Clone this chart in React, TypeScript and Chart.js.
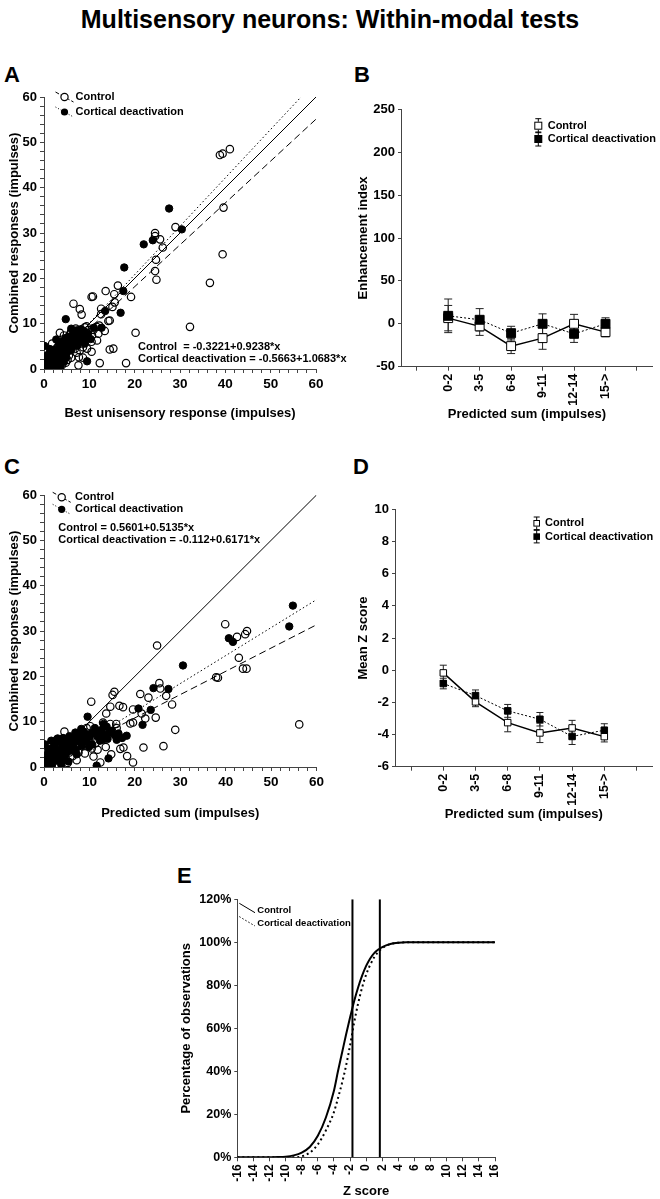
import React, { useEffect, useRef } from 'react';
import { Chart, registerables } from 'chart.js';

Chart.register(...registerables);

const FONT = "'Liberation Sans', Arial, Helvetica, sans-serif";
const AXIS = '#444';

// ---------- text ----------
const TITLE = 'Multisensory neurons: Within-modal tests';
const CONTROL = 'Control';
const DEACT = 'Cortical deactivation';

// ---------- Panel A ----------
const aControlPoints: [number, number][] = [
  [41.0, 48.5], [39.4, 47.5], [38.8, 47.2], [39.6, 35.6], [39.4, 25.3], [36.6, 19.0], [32.2, 9.3],
  [29.0, 31.3], [25.6, 28.6], [26.2, 26.8], [24.5, 30.0], [24.5, 29.3], [24.7, 24.1], [24.5, 21.6],
  [24.8, 19.7], [19.2, 15.9], [20.2, 8.0], [18.1, 1.3], [12.3, 1.3], [16.3, 18.4], [15.5, 16.5],
  [15.6, 14.7], [15.1, 13.7], [13.6, 17.2], [10.8, 16.0], [10.5, 15.9], [6.5, 14.4], [7.9, 13.2],
  [8.3, 12.0], [12.6, 12.1], [12.6, 13.3], [14.5, 10.7], [14.2, 10.6], [11.7, 6.3], [10.5, 6.0],
  [15.3, 4.5], [14.5, 4.3], [9.5, 4.5], [10.5, 3.8], [7.9, 4.1], [7.7, 2.6], [7.6, 0.8], [3.5, 8.0],
  [9.4, 9.4], [6.0, 8.2], [11.6, 9.3], [12.0, 7.8], [8.6, 2.5], [6.0, 2.5],
  [0.4, 0.8], [1.0, 2.0], [1.5, 1.0], [2.0, 3.6], [2.5, 2.0], [3.0, 0.6], [3.2, 5.2], [3.6, 2.6],
  [4.2, 4.0], [4.8, 1.4], [5.0, 6.2], [5.5, 3.0], [6.2, 5.4], [6.6, 7.2], [7.2, 3.6], [7.8, 6.0],
  [8.3, 8.0], [9.0, 9.2], [9.8, 8.6], [10.6, 7.4], [8.6, 4.8], [1.8, 5.6], [0.6, 3.8], [4.4, 7.4],
  [12.2, 9.6], [13.4, 8.4], [0.9, 0.2], [2.8, 4.6], [3.9, 5.8], [5.8, 7.8], [7.0, 8.9], [9.4, 7.0],
  [10.9, 8.6], [6.8, 4.4], [5.2, 2.0], [1.2, 2.8], [2.2, 1.4], [4.0, 0.9],
];
const aDeactPoints: [number, number][] = [
  [27.6, 35.4], [30.4, 30.8], [24.0, 28.4], [22.0, 27.5], [17.7, 22.4], [17.5, 17.2], [16.9, 12.4],
  [13.5, 12.8], [12.7, 9.1], [4.8, 11.0], [9.5, 1.7],
  [0.3, 0.4], [0.8, 1.5], [1.2, 0.3], [1.6, 2.3], [2.0, 1.0], [2.4, 0.8], [2.7, 3.0], [3.0, 2.0],
  [3.3, 4.4], [3.8, 3.8], [3.8, 1.8], [4.2, 2.9], [4.6, 4.9], [5.0, 3.6], [5.3, 7.1], [5.7, 5.6],
  [6.0, 4.2], [6.4, 7.8], [6.8, 6.3], [7.1, 8.5], [7.4, 5.2], [7.9, 7.4], [8.2, 8.8], [8.6, 7.1],
  [9.0, 5.6], [9.7, 7.8], [10.3, 6.6], [11.0, 9.1], [0.1, 5.1], [2.7, 6.5], [1.0, 3.2], [0.5, 2.4],
  [4.0, 6.0], [6.0, 8.9], [7.6, 6.4],
  [0.5, 1.8], [1.4, 1.2], [1.9, 2.8], [2.2, 0.4], [2.9, 1.2], [3.4, 2.6], [3.6, 0.6], [4.4, 1.6],
  [4.9, 2.6], [5.4, 4.6], [5.9, 6.6], [6.3, 5.0], [6.9, 7.3], [7.3, 7.9], [7.7, 8.6], [8.4, 7.6],
  [8.9, 8.3], [9.2, 6.8], [5.1, 5.9], [4.3, 5.2], [3.5, 5.4], [2.3, 4.2], [1.3, 4.4], [0.7, 3.0],
  [0.2, 1.4], [1.7, 0.2], [3.1, 3.6], [4.7, 6.8], [6.6, 8.2], [8.0, 6.1],
];
const aControlFit: [number, number] = [-0.3221, 0.9238];
const aDeactFit: [number, number] = [-0.5663, 1.0683];
const aEquations = ['Control  = -0.3221+0.9238*x', 'Cortical deactivation = -0.5663+1.0683*x'];
const aXTitle = 'Best unisensory response (impulses)';
const aYTitle = 'Combined responses (impulses)';

// ---------- Panel C ----------
const cControlPoints: [number, number][] = [
  [39.9, 31.5], [44.7, 30.0], [44.3, 29.3], [42.5, 28.7], [42.9, 24.1], [43.8, 21.7], [44.6, 21.7],
  [37.9, 19.8], [38.3, 19.7], [24.9, 26.8], [25.4, 18.5], [25.6, 17.3], [26.9, 15.7], [28.2, 13.8],
  [28.9, 8.2], [56.2, 9.4], [23.0, 15.3], [21.2, 16.1], [21.5, 11.8], [24.6, 10.9], [22.3, 10.7],
  [19.6, 12.7], [19.0, 9.6], [19.6, 9.8], [15.5, 16.6], [15.1, 15.9], [10.4, 14.4], [14.6, 13.3],
  [16.6, 13.5], [17.4, 13.2], [13.7, 11.8], [15.9, 9.5], [14.6, 9.5], [4.5, 7.8], [17.5, 4.3],
  [21.9, 4.3], [26.3, 4.6],
  [0.4, 0.4], [0.9, 1.6], [1.5, 0.8], [2.0, 3.0], [2.6, 1.8], [3.2, 0.4], [3.6, 4.4], [4.0, 2.2],
  [4.8, 3.4], [5.2, 0.9], [5.8, 5.2], [6.3, 2.4], [6.9, 4.2], [7.2, 1.5], [7.6, 3.2], [8.4, 5.6],
  [9.0, 3.0], [9.8, 6.2], [10.5, 4.1], [10.9, 2.3], [11.3, 5.2], [12.4, 1.0], [13.0, 9.8],
  [16.0, 8.6], [1.4, 5.0], [2.8, 6.0], [18.3, 2.4],
  [1.0, 2.6], [2.2, 4.0], [3.0, 2.8], [4.4, 5.2], [5.6, 3.2], [6.6, 5.8], [8.0, 7.0], [9.4, 8.6],
  [10.2, 9.0], [11.8, 3.8], [12.8, 6.4], [13.6, 4.4], [14.8, 2.8], [16.8, 4.0], [19.6, 1.0],
];
const cDeactPoints: [number, number][] = [
  [54.8, 35.6], [54.0, 31.0], [40.7, 28.4], [41.6, 27.6], [30.6, 22.4], [24.1, 17.4], [27.4, 17.2],
  [20.8, 12.9], [23.5, 12.6], [21.7, 9.3], [9.6, 11.1], [0.2, 5.0], [12.7, 8.2], [13.8, 8.9],
  [13.1, 9.5], [16.4, 7.4], [18.2, 6.9], [14.0, 6.2], [16.0, 6.0], [7.9, 7.4], [10.1, 6.7],
  [11.6, 7.8], [6.1, 6.3], [5.0, 4.9], [4.4, 4.1], [14.2, 1.9], [11.6, 0.3],
  [0.6, 0.8], [1.2, 2.0], [1.8, 0.6], [2.3, 2.6], [2.9, 1.4], [3.4, 3.3], [3.8, 0.5], [4.6, 2.4],
  [5.4, 1.2], [5.8, 3.6], [6.5, 5.0], [7.2, 2.8], [7.6, 6.4], [8.3, 4.6], [8.8, 7.8], [9.4, 5.6],
  [10.6, 5.0], [11.2, 8.6], [12.3, 5.8], [13.2, 7.2], [15.0, 8.0], [3.0, 6.3], [4.2, 6.4],
  [1.0, 4.0], [2.2, 4.6],
  [0.4, 1.6], [0.9, 3.0], [1.5, 3.4], [2.0, 1.4], [2.6, 3.8], [3.2, 2.2], [3.9, 4.6], [4.1, 1.6],
  [4.9, 3.2], [5.3, 5.4], [6.0, 4.4], [6.7, 6.2], [7.0, 3.8], [7.9, 5.6], [8.5, 6.6], [9.1, 7.0],
  [9.9, 4.4], [10.4, 7.4], [11.8, 6.8], [12.9, 6.0], [14.4, 7.6], [15.6, 7.0], [17.2, 6.4],
  [2.6, 5.4], [1.6, 5.8], [3.6, 5.8], [5.6, 6.8], [6.9, 7.6], [8.2, 8.4],
];
const cControlFit: [number, number] = [0.5601, 0.5135];
const cDeactFit: [number, number] = [-0.112, 0.6171];
const cEquations = ['Control = 0.5601+0.5135*x', 'Cortical deactivation = -0.112+0.6171*x'];
const cXTitle = 'Predicted sum (impulses)';
const cYTitle = 'Combined responses (impulses)';

const scatterRange: [number, number] = [0, 60];
const scatterTickLabels = [0, 10, 20, 30, 40, 50, 60];

// ---------- Panels B & D ----------
const binLabels = ['0-2', '3-5', '6-8', '9-11', '12-14', '15->'];
const binTickPositions = [-1, 0, 1, 2, 3, 4, 5, 6];

const bControlMean = [6.6, -3.0, -26.0, -16.7, 0.0, -9.7];
const bControlErr = [14.8, 10.5, 8.7, 13.0, 11.0, 5.5];
const bDeactMean = [9.3, 4.7, -10.9, 0.0, -11.7, 0.0];
const bDeactErr = [19.6, 13.0, 8.0, 11.6, 10.0, 7.0];
const bYTicks = [-50, 0, 50, 100, 150, 200, 250];
const bYTitle = 'Enhancement index';
const bXTitle = 'Predicted sum (impulses)';

const dControlMean = [-0.17, -1.97, -3.26, -3.9, -3.59, -4.13];
const dControlErr = [0.48, 0.3, 0.57, 0.6, 0.47, 0.33];
const dDeactMean = [-0.83, -1.58, -2.53, -3.05, -4.12, -3.73];
const dDeactErr = [0.33, 0.35, 0.4, 0.42, 0.5, 0.4];
const dYTicks = [-6, -4, -2, 0, 2, 4, 6, 8, 10];
const dYTitle = 'Mean Z score';
const dXTitle = 'Predicted sum (impulses)';

// ---------- Panel E ----------
const eZ = [-16, -14, -12, -11, -10, -9, -8, -7, -6, -5, -4, -3.5, -3, -2.5, -2, -1.5, -1, -0.5, 0,
  0.5, 1, 1.5, 2, 3, 4, 5, 6, 8, 10, 12, 14, 16];
const eControlPct = [0, 0, 0, 0.1, 0.3, 0.9, 2.2, 4.8, 10, 18.5, 31, 40, 48.5, 57, 65, 72.5, 79, 84.5, 89,
  92.5, 95, 96.6, 97.8, 99.2, 99.8, 100, 100, 100, 100, 100, 100, 100];
const eDeactPct = [0, 0, 0, 0, 0, 0, 0.4, 2.2, 6, 12.5, 21, 27.5, 34.5, 42.5, 52, 62.5, 71.5, 79, 85,
  89.5, 93, 95.6, 97.3, 99.2, 99.8, 100, 100, 100, 100, 100, 100, 100];
const eCriticalZ = [-1.7, 1.7];
const eXTicks = [-16, -14, -12, -10, -8, -6, -4, -2, 0, 2, 4, 6, 8, 10, 12, 14, 16];
const eYTicks = [0, 20, 40, 60, 80, 100, 120];
const eXTitle = 'Z score';
const eYTitle = 'Percentage of observations';

// ---------- plugins ----------
const errorBarPlugin = {
  id: 'errorBars',
  beforeDatasetsDraw(chart: any) {
    const ctx = chart.ctx;
    const yScale = chart.scales.y;
    chart.data.datasets.forEach((ds: any, i: number) => {
      if (!ds.errorBars) return;
      const meta = chart.getDatasetMeta(i);
      const w = ds.capHalfWidth || 4;
      meta.data.forEach((el: any, j: number) => {
        const v = ds.data[j].y;
        const e = ds.errorBars[j];
        const yTop = yScale.getPixelForValue(v + e);
        const yBot = yScale.getPixelForValue(v - e);
        ctx.save();
        ctx.strokeStyle = '#222';
        ctx.lineWidth = 1;
        ctx.beginPath();
        ctx.moveTo(el.x, yTop); ctx.lineTo(el.x, yBot);
        ctx.moveTo(el.x - w, yTop); ctx.lineTo(el.x + w, yTop);
        ctx.moveTo(el.x - w, yBot); ctx.lineTo(el.x + w, yBot);
        ctx.stroke();
        ctx.restore();
      });
    });
  },
};

const annotatePlugin = {
  id: 'annotate',
  afterDraw(chart: any, _args: any, opts: any) {
    const { ctx, chartArea } = chart;
    if (!opts) return;
    ctx.save();
    const lg = opts.legend;
    if (lg) {
      lg.items.forEach((it: any, i: number) => {
        const cx = chartArea.left + lg.dx;
        const cy = chartArea.top + lg.dy + i * lg.gap;
        ctx.strokeStyle = '#000';
        ctx.fillStyle = '#000';
        if (it.sample) {
          ctx.lineWidth = it.sampleWidth || 1;
          ctx.setLineDash(it.dash || []);
          ctx.beginPath();
          ctx.moveTo(cx + it.sample[0], cy + it.sample[1]);
          ctx.lineTo(cx + it.sample[2], cy + it.sample[3]);
          ctx.stroke();
          ctx.setLineDash([]);
        }
        ctx.lineWidth = 1.2;
        if (it.marker === 'circle') {
          ctx.beginPath();
          ctx.arc(cx, cy, it.size, 0, Math.PI * 2);
          if (it.filled) ctx.fill(); else { ctx.fillStyle = '#fff'; ctx.fill(); ctx.stroke(); }
        } else if (it.marker === 'square') {
          ctx.lineWidth = 1;
          const s = it.size;
          const e = s + 3;
          ctx.beginPath();
          ctx.moveTo(cx, cy - e); ctx.lineTo(cx, cy + e);
          ctx.moveTo(cx - 3, cy - e); ctx.lineTo(cx + 3, cy - e);
          ctx.moveTo(cx - 3, cy + e); ctx.lineTo(cx + 3, cy + e);
          ctx.stroke();
          if (it.filled) { ctx.fillStyle = '#000'; ctx.fillRect(cx - s, cy - s, 2 * s, 2 * s); }
          else { ctx.fillStyle = '#fff'; ctx.fillRect(cx - s, cy - s, 2 * s, 2 * s); ctx.strokeRect(cx - s + 0.5, cy - s + 0.5, 2 * s - 1, 2 * s - 1); }
        }
        ctx.fillStyle = '#000';
        ctx.font = `bold ${lg.fontSize}px ${FONT}`;
        ctx.textBaseline = 'middle';
        ctx.textAlign = 'left';
        ctx.fillText(it.label, cx + lg.textDx, cy);
      });
    }
    const tx = opts.texts;
    if (tx) {
      ctx.fillStyle = '#000';
      ctx.font = `bold ${tx.fontSize}px ${FONT}`;
      ctx.textBaseline = 'middle';
      ctx.textAlign = 'left';
      tx.lines.forEach((t: string, i: number) => {
        ctx.fillText(t, chartArea.left + tx.dx, chartArea.top + tx.dy + i * tx.gap);
      });
    }
    ctx.restore();
  },
};

// ---------- helpers ----------
function font(size: number) {
  return { family: FONT, size, weight: 'bold' as const };
}

function makeAxis(o: any) {
  return {
    type: 'linear',
    min: o.min,
    max: o.max,
    afterFit: (s: any) => {
      if (o.horizontal) s.height = o.size; else s.width = o.size;
    },
    afterBuildTicks: o.tickValues ? (s: any) => { s.ticks = o.tickValues.map((v: number) => ({ value: v })); } : undefined,
    border: { display: true, color: AXIS, width: 1 },
    grid: { display: true, drawOnChartArea: false, drawTicks: true, tickLength: o.tickLength ?? 4, color: AXIS },
    ticks: {
      stepSize: o.step,
      autoSkip: false,
      includeBounds: false,
      minRotation: o.rotation || 0,
      maxRotation: o.rotation || 0,
      color: '#000',
      font: font(o.tickSize || 13),
      padding: o.tickPadding ?? 3,
      callback: o.callback,
    },
    title: {
      display: true,
      text: o.title,
      color: '#000',
      font: font(13),
      padding: o.horizontal ? { top: 0, bottom: o.titlePad } : { top: o.titlePad, bottom: 0 },
    },
  };
}

function baseOptions(padTop: number, padRight: number, annotate: any) {
  return {
    responsive: false,
    animation: false,
    events: [],
    layout: { padding: { left: 0, top: padTop, right: padRight, bottom: 0 } },
    plugins: {
      legend: { display: false },
      tooltip: { enabled: false },
      annotate,
    },
  };
}

const toXY = (pts: [number, number][]) => pts.map(([x, y]) => ({ x, y }));
const fitLine = (fit: [number, number]) => scatterRange.map((x) => ({ x, y: fit[0] + fit[1] * x }));

function scatterConfig(p: any) {
  const legendItems = [
    { label: CONTROL, marker: 'circle', filled: false, size: 3.6, sample: [-9, -5, 9, 5], dash: [4, 2] },
    { label: DEACT, marker: 'circle', filled: true, size: 3.6, sample: [-9, -5, 9, 5], dash: [1, 2] },
  ];
  return {
    type: 'scatter',
    data: {
      datasets: [
        { data: toXY(p.deact), pointRadius: 3.7, pointBackgroundColor: '#000', pointBorderColor: '#000', pointBorderWidth: 1 },
        { data: toXY(p.control), pointRadius: 3.7, pointBackgroundColor: 'rgba(0,0,0,0)', pointBorderColor: '#000', pointBorderWidth: 1.2 },
        { data: scatterRange.map((x) => ({ x, y: x })), showLine: true, pointRadius: 0, borderColor: '#000', borderWidth: 1 },
        { data: fitLine(p.controlFit), showLine: true, pointRadius: 0, borderColor: '#000', borderWidth: 1, borderDash: [7, 4] },
        { data: fitLine(p.deactFit), showLine: true, pointRadius: 0, borderColor: '#000', borderWidth: 1, borderDash: [1.5, 2.5] },
      ],
    },
    options: {
      ...baseOptions(p.padTop, p.padRight, {
        legend: { dx: p.legDx, dy: p.legDy, gap: p.legGap, textDx: p.legTextDx, fontSize: 11, items: legendItems },
        texts: { dx: p.eqDx, dy: p.eqDy, gap: p.eqGap, fontSize: 11, lines: p.equations },
      }),
      scales: {
        x: makeAxis({
          horizontal: true, size: p.xH, min: scatterRange[0], max: scatterRange[1], step: 2,
          callback: (v: number) => (scatterTickLabels.includes(v) ? String(v) : ''),
          title: p.xTitle, titlePad: 9, tickSize: 13.5,
        }),
        y: makeAxis({
          horizontal: false, size: 44, min: scatterRange[0], max: scatterRange[1], step: 2,
          callback: (v: number) => (scatterTickLabels.includes(v) ? String(v) : ''),
          title: p.yTitle, titlePad: 7, tickSize: 13,
        }),
      },
    },
    plugins: [annotatePlugin],
  };
}

function binConfig(p: any) {
  const legendItems = [
    { label: CONTROL, marker: 'square', filled: false, size: p.legSq },
    { label: DEACT, marker: 'square', filled: true, size: p.legSq },
  ];
  return {
    type: 'line',
    data: {
      datasets: [
        {
          data: p.deactMean.map((y: number, i: number) => ({ x: i, y })), errorBars: p.deactErr, capHalfWidth: p.cap,
          borderColor: '#000', borderWidth: 1, borderDash: [2, 2], pointStyle: 'rect', pointRadius: p.r,
          pointBackgroundColor: '#000', pointBorderColor: '#000', pointBorderWidth: 1,
        },
        {
          data: p.controlMean.map((y: number, i: number) => ({ x: i, y })), errorBars: p.controlErr, capHalfWidth: p.cap,
          borderColor: '#000', borderWidth: 1.5, pointStyle: 'rect', pointRadius: p.r,
          pointBackgroundColor: '#fff', pointBorderColor: '#000', pointBorderWidth: 1,
        },
      ],
    },
    options: {
      ...baseOptions(49.3, p.padRight, {
        legend: { dx: p.legDx, dy: p.legDy, gap: 13.3, textDx: p.legTextDx, fontSize: 11, items: legendItems },
      }),
      scales: {
        x: makeAxis({
          horizontal: true, size: 63.3, min: -1.5, max: 6.5, tickValues: binTickPositions, rotation: 90,
          callback: (v: number) => binLabels[v] ?? '', title: p.xTitle, titlePad: 8.2, tickSize: 12.5, tickLength: 4,
        }),
        y: makeAxis({
          horizontal: false, size: p.yW, min: p.yTicks[0], max: p.yTicks[p.yTicks.length - 1], tickValues: p.yTicks,
          callback: (v: number) => String(v), title: p.yTitle, titlePad: 25.5, tickLength: 3, tickSize: 13,
        }),
      },
    },
    plugins: [errorBarPlugin, annotatePlugin],
  };
}

function eConfig() {
  const legendItems = [
    { label: CONTROL, sample: [2, -6.7, 17.7, 2.7], dash: [], sampleWidth: 1 },
    { label: DEACT, sample: [2, -6.7, 17.7, 2.7], dash: [1.5, 2], sampleWidth: 1 },
  ];
  const yMax = eYTicks[eYTicks.length - 1];
  return {
    type: 'line',
    data: {
      datasets: [
        {
          data: eZ.map((x, i) => ({ x, y: eControlPct[i] })), borderColor: '#000', borderWidth: 2,
          pointRadius: 0, cubicInterpolationMode: 'monotone',
        },
        {
          data: eZ.map((x, i) => ({ x, y: eDeactPct[i] })), borderColor: '#000', borderWidth: 2,
          borderDash: [2, 3], pointRadius: 0, cubicInterpolationMode: 'monotone',
        },
        ...eCriticalZ.map((z) => ({
          data: [{ x: z, y: 0 }, { x: z, y: yMax }], borderColor: '#000', borderWidth: 2, pointRadius: 0,
        })),
      ],
    },
    options: {
      ...baseOptions(49.3, 35, {
        legend: { dx: 0, dy: 10.7, gap: 13.3, textDx: 20, fontSize: 9.5, items: legendItems },
      }),
      scales: {
        x: makeAxis({
          horizontal: true, size: 41.7, min: eXTicks[0], max: eXTicks[eXTicks.length - 1], tickValues: eXTicks,
          rotation: 90, callback: (v: number) => String(v), title: eXTitle, titlePad: 0, tickSize: 12, tickLength: 4,
        }),
        y: makeAxis({
          horizontal: false, size: 87.3, min: 0, max: yMax, tickValues: eYTicks,
          callback: (v: number) => v + '%', title: eYTitle, titlePad: 28.9, tickLength: 3, tickSize: 12.5,
        }),
      },
    },
    plugins: [annotatePlugin],
  };
}

function ChartPanel({ left, top, width, height, build }: any) {
  const ref = useRef<HTMLCanvasElement>(null);
  useEffect(() => {
    const chart = new Chart(ref.current as HTMLCanvasElement, build());
    return () => chart.destroy();
  }, []);
  return (
    <canvas
      ref={ref}
      width={width}
      height={height}
      style={{ position: 'absolute', left, top, width, height }}
    />
  );
}

const letterStyle = (left: number, top: number): React.CSSProperties => ({
  position: 'absolute', left, top, fontSize: 22, lineHeight: '22px', fontWeight: 'bold', fontFamily: FONT, color: '#000',
});

export default function App() {
  return (
    <div style={{ position: 'absolute', left: 0, top: 0, width: 660, height: 1199, background: '#fff', overflow: 'hidden', fontFamily: FONT }}>
      <div style={{ position: 'absolute', left: 0, top: 5, width: 660, textAlign: 'center', fontSize: 25, lineHeight: '28px', fontWeight: 'bold', color: '#000' }}>
        {TITLE}
      </div>
      <div style={letterStyle(4, 64)}>A</div>
      <div style={letterStyle(354, 64)}>B</div>
      <div style={letterStyle(4, 456)}>C</div>
      <div style={letterStyle(353, 456)}>D</div>
      <div style={letterStyle(177, 865)}>E</div>

      <ChartPanel left={0} top={60} width={360} height={370} build={() => scatterConfig({
        control: aControlPoints, deact: aDeactPoints, controlFit: aControlFit, deactFit: aDeactFit,
        equations: aEquations, xTitle: aXTitle, yTitle: aYTitle, padTop: 37, padRight: 44, xH: 61,
        legDx: 20.5, legDy: 0, legGap: 15, legTextDx: 11, eqDx: 94, eqDy: 250, eqGap: 11.6,
      })} />
      <ChartPanel left={0} top={460} width={360} height={370} build={() => scatterConfig({
        control: cControlPoints, deact: cDeactPoints, controlFit: cControlFit, deactFit: cDeactFit,
        equations: cEquations, xTitle: cXTitle, yTitle: cYTitle, padTop: 35, padRight: 43.5, xH: 63,
        legDx: 17.7, legDy: 2.3, legGap: 12, legTextDx: 13.3, eqDx: 14.3, eqDy: 33.3, eqGap: 11.7,
      })} />
      <ChartPanel left={330} top={60} width={330} height={370} build={() => binConfig({
        controlMean: bControlMean, controlErr: bControlErr, deactMean: bDeactMean, deactErr: bDeactErr,
        yTicks: bYTicks, yTitle: bYTitle, xTitle: bXTitle, yW: 71, padRight: 0, r: 6.3, cap: 4,
        legDx: 137.3, legDy: 16.4, legTextDx: 9.4, legSq: 4,
      })} />
      <ChartPanel left={330} top={460} width={330} height={370} build={() => binConfig({
        controlMean: dControlMean, controlErr: dControlErr, deactMean: dDeactMean, deactErr: dDeactErr,
        yTicks: dYTicks, yTitle: dYTitle, xTitle: dXTitle, yW: 65, padRight: 7.4, r: 4.6, cap: 3.5,
        legDx: 141.7, legDy: 14, legTextDx: 8.3, legSq: 3.3,
      })} />
      <ChartPanel left={150} top={850} width={380} height={349} build={eConfig} />
    </div>
  );
}
